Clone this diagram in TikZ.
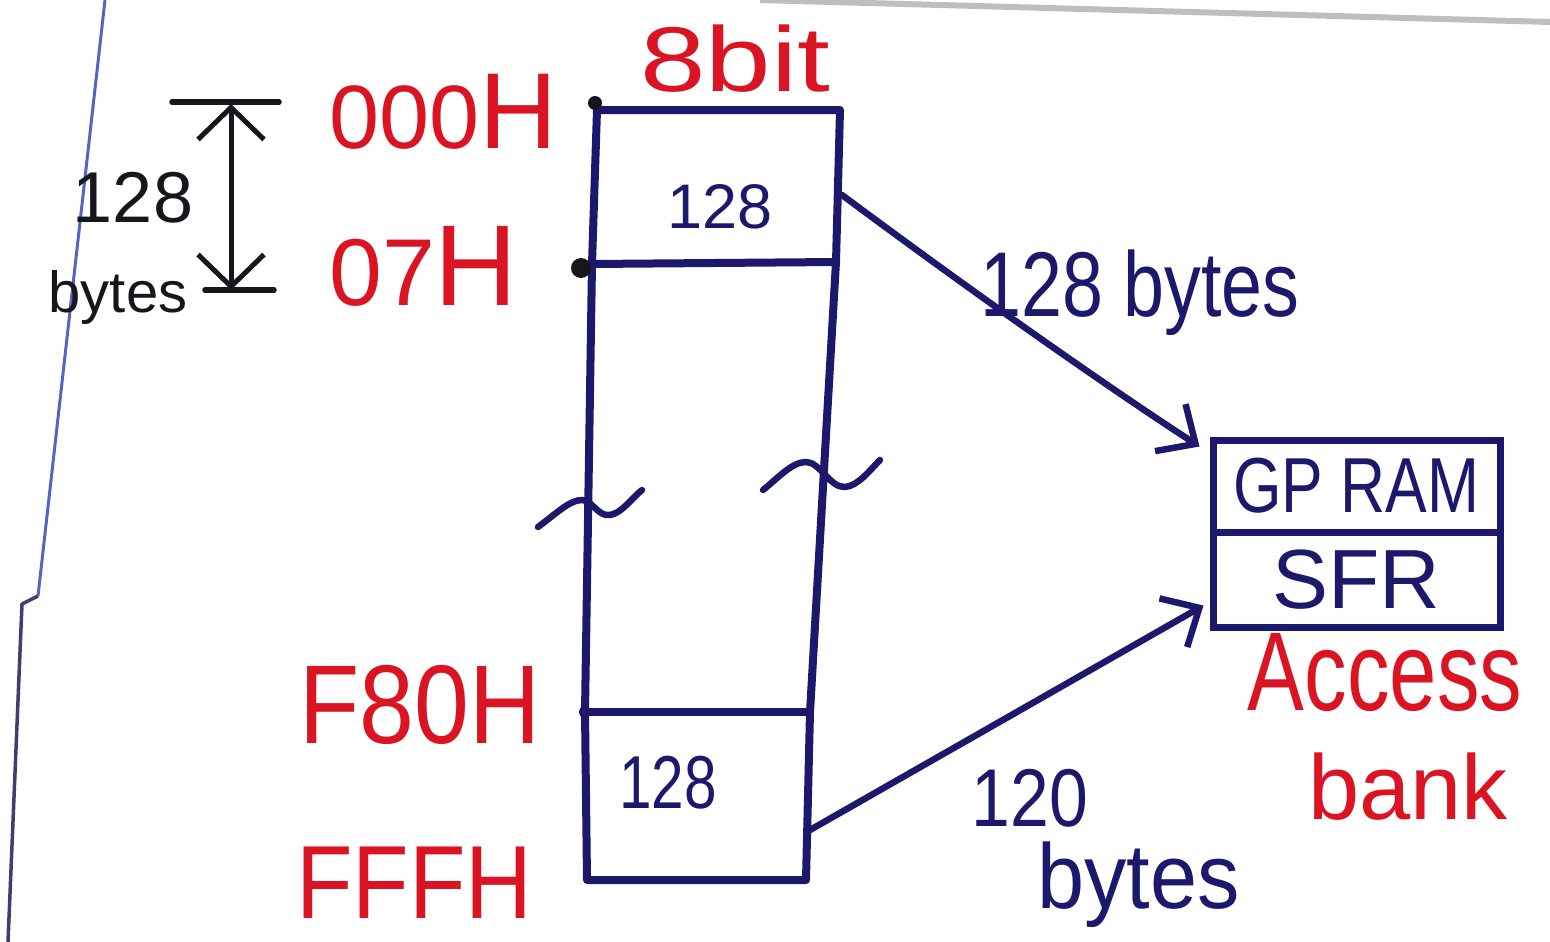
\documentclass[tikz,border=0pt]{standalone}
\usepackage{fontspec}
\setmainfont{Liberation Sans}
\usetikzlibrary{arrows.meta}

\definecolor{inkred}{RGB}{218,20,34}
\definecolor{inkblue}{RGB}{28,24,108}
\definecolor{inkblack}{RGB}{22,22,28}
\definecolor{marginblue}{RGB}{84,100,196}
\definecolor{margindark}{RGB}{62,62,112}
\definecolor{boardedge}{RGB}{125,125,130}

\newcommand{\hwsize}[1]{\fontsize{#1}{#1}\selectfont}
\newcommand{\hwnarrow}[2]{\scalebox{#1}[1]{#2}}

\begin{document}
\begin{tikzpicture}[x=1pt,y=-1pt,
  ink/.style={draw=inkblue, line width=8pt, line cap=round, line join=round},
  feed/.style={draw=inkblue, line width=6.5pt, line cap=round,
    -{Straight Barb[length=30pt,width=56pt]}},
  addr/.style={text=inkred, inner sep=0pt, anchor=base west},
  note/.style={text=inkblue, inner sep=0pt},
  cell/.style={draw=inkblue, line width=7pt, minimum width=287pt,
    inner sep=0pt, text=inkblue}]

\useasboundingbox (0,0) rectangle (1550,942);

% margin rule of the sheet and the board edge
\draw[marginblue, line width=3pt] (105,0) -- (38,596);
\draw[margindark, line width=3.5pt, line join=round] (38,596) -- (22,604) -- (8,942);
\draw[boardedge, line width=6pt, opacity=0.5] (760,0) -- (1550,22);

% memory column
\coordinate (tl) at (597,110);
\coordinate (tr) at (840,110);
\coordinate (br) at (806,880);
\coordinate (bl) at (587,880);
\coordinate (d1l) at (592,264);
\coordinate (d1r) at (836,262);
\coordinate (d2l) at (585,712);
\coordinate (d2r) at (810,712);
\draw[ink] (tl) -- (tr) -- (d1r) -- (d2r) -- (br) -- (bl) -- (d2l) -- (d1l) -- cycle;
\draw[ink] (d1l) -- (d1r);
\draw[ink] (d2l) -- (d2r);

% break marks across the column
\draw[ink, line width=6.5pt] (538,527) .. controls (558,512) and (570,500) .. (582,500)
  .. controls (592,500) and (598,517) .. (610,515)
  .. controls (622,513) and (632,498) .. (642,490);
\draw[ink, line width=6.5pt] (763,490) .. controls (778,478) and (792,462) .. (806,462)
  .. controls (820,462) and (830,488) .. (845,487)
  .. controls (858,486) and (870,470) .. (880,460);

% address marks
\fill[inkblack] (595,103) circle[radius=7pt];
\fill[inkblack] (581,268) circle[radius=10pt];
\fill[inkblue] (585,712) circle[radius=6pt];

% cell contents
\node[note, font=\hwsize{63}] (c1) at (720,207) {128};
\node[note, font=\hwsize{75}] (c2) at (668,783) {\hwnarrow{0.78}{128}};

% width label and addresses
\node[addr] (width) at (640,92) {\hwsize{92}\hwnarrow{1.28}{8bit}};
\node[addr] (a000) at (329,148) {{\hwsize{90}000}\hwsize{108}H};
\node[addr] (a07) at (329,305) {{\hwsize{95}07}\hwsize{115}H};
\node[addr] (af80) at (299,743) {\hwsize{112}\hwnarrow{0.88}{F80H}};
\node[addr] (afff) at (296,918) {\hwsize{104}\hwnarrow{0.89}{FFFH}};

% size of the first block
\coordinate (dimtop) at (231,104);
\coordinate (dimbot) at (231,290);
\draw[inkblack, line width=5.5pt, line cap=round] (172,102) -- (279,102);
\draw[inkblack, line width=5.5pt, line cap=round] (205,290) -- (274,290);
\draw[inkblack, line width=5pt,
  {Straight Barb[length=32pt,width=66pt]}-{Straight Barb[length=32pt,width=66pt]}]
  (dimtop) -- (dimbot);
\node[text=inkblack, inner sep=0pt, font=\hwsize{72}] (dimnum) at (133,198) {128};
\node[text=inkblack, inner sep=0pt, font=\hwsize{58}] (dimunit) at (118,298) {bytes};

% access bank
\node[cell, minimum height=92pt, font=\hwsize{78}] (gp) at (1356.5,486) {\hwnarrow{0.8}{GP RAM}};
\node[cell, minimum height=95pt, font=\hwsize{84}] (sfr) at (1356.5,579.5) {SFR};
\node[text=inkred, inner sep=0pt, font=\hwsize{112}] (acc) at (1385,673) {\hwnarrow{0.76}{Access}};
\node[text=inkred, inner sep=0pt, font=\hwsize{92}] (bank) at (1408,787) {bank};

% mapping into the access bank
\coordinate (out1) at (842,195);
\coordinate (out2) at (810,830);
\draw[feed] (out1) .. controls (990,305) and (1120,395) .. ([xshift=-10pt,yshift=-10pt]gp.north west);
\draw[feed] (out2) -- ([xshift=-6pt,yshift=-26pt]sfr.west);

\node[note, font=\hwsize{92}, anchor=base west] (lab1) at (980,316) {\hwnarrow{0.8}{128 bytes}};
\node[note, font=\hwsize{82}] (lab2a) at (1030,798) {\hwnarrow{0.85}{120}};
\node[note, font=\hwsize{92}, anchor=base west] (lab2b) at (1037,908) {\hwnarrow{0.92}{bytes}};

\end{tikzpicture}
\end{document}
